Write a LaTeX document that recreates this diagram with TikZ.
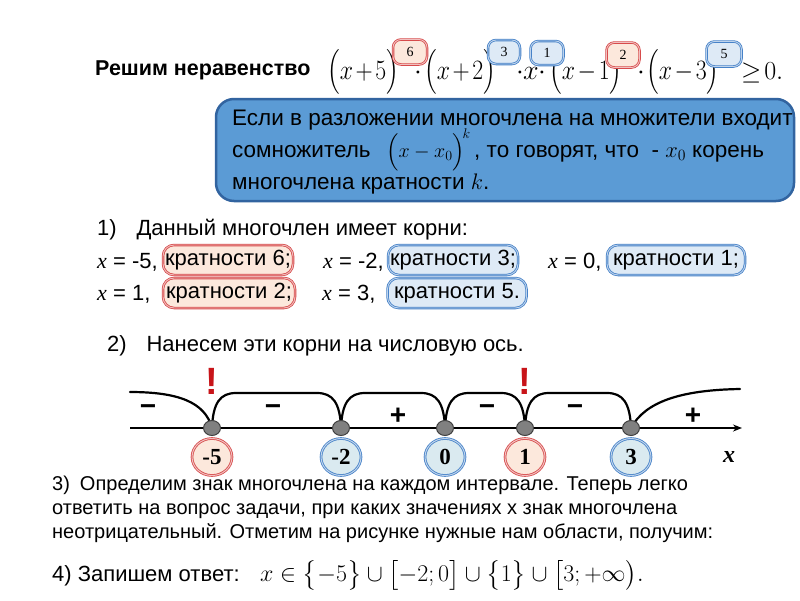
\RequirePackage{fix-cm}
\documentclass[tikz,border=0pt]{standalone}
\usepackage{amsmath}
\usepackage{fontspec}
\setmainfont{Liberation Sans}
\newfontfamily\tnr{Liberation Serif}
\usetikzlibrary{arrows.meta,shapes.geometric}
\definecolor{boxblue}{RGB}{91,155,213}
\definecolor{boxedge}{RGB}{50,100,160}
\definecolor{pillred}{RGB}{215,75,75}
\definecolor{pillredfill}{RGB}{252,232,220}
\definecolor{pillblue}{RGB}{70,130,200}
\definecolor{pillbluefill}{RGB}{222,234,246}
\definecolor{circbluefill}{RGB}{218,234,240}
\definecolor{exclred}{RGB}{200,20,25}
\definecolor{ptgray}{RGB}{128,128,128}
\newcommand\xv{{\tnr\itshape x}}
\newcommand\pf[1]{\scalebox{0.85}[1]{$\medmuskip=2mu\bigl(#1\bigr)$}}
\tikzset{
  txt/.style={anchor=base west,inner sep=0,font=\fontsize{22}{26}\selectfont},
  boxtxt/.style={anchor=base west,inner sep=0,font=\fontsize{22.5}{26}\selectfont},
  smalltxt/.style={anchor=base west,inner sep=0,font=\fontsize{20}{23}\selectfont},
  fml/.style={anchor=base west,inner sep=0,font=\fontsize{28}{28}\selectfont},
  pillbase/.style={rounded corners=11pt,line width=0.8pt,double distance=0.9pt,
    minimum height=30,inner sep=0,font=\fontsize{22}{26}\selectfont},
  redpill/.style={pillbase,draw=pillred,double=pillred!35!white,fill=pillredfill},
  bluepill/.style={pillbase,draw=pillblue,double=pillblue!35!white,fill=pillbluefill},
  expbase/.style={rounded corners=8pt,line width=0.8pt,double distance=0.9pt,
    inner sep=0,font=\tnr\fontsize{14}{14}\selectfont},
  expred/.style={expbase,draw=pillred,double=pillred!35!white,fill=pillredfill},
  expblue/.style={expbase,draw=pillblue,double=pillblue!35!white,fill=pillbluefill},
  ptdot/.style={ellipse,draw=black!75,line width=1pt,fill=ptgray,minimum width=17,minimum height=15,inner sep=0},
  circbase/.style={ellipse,line width=0.8pt,double distance=1pt,minimum width=40,minimum height=37,inner sep=0,
    font=\tnr\fontsize{23}{23}\selectfont\bfseries},
  redcirc/.style={circbase,draw=pillred,double=pillred!35!white,fill=pillredfill},
  bluecirc/.style={circbase,draw=pillblue,double=pillblue!35!white,fill=circbluefill},
  sign/.style={inner sep=0,font=\fontsize{28}{28}\selectfont\bfseries},
  excl/.style={anchor=base,inner sep=0,text=exclred,font=\fontsize{38}{38}\selectfont\bfseries},
  curve/.style={line width=2.2pt,line cap=round}
}
\begin{document}
\begin{tikzpicture}[x=1pt,y=-1pt]
\useasboundingbox (0,0) rectangle (800,600);
\fill[white] (0,0) rectangle (800,600);
% heading
\node[anchor=base west,inner sep=0,font=\fontsize{21.5}{24}\selectfont\bfseries] (head) at (95,75) {Решим неравенство};
\node[fml] (f1) at (327,79) {\pf{x+5}};
\node[fml,anchor=base] (d1) at (418,79) {$\cdot$};
\node[fml] (f2) at (424,79) {\pf{x+2}};
\node[fml,anchor=base] (d2) at (520,79) {$\cdot$};
\node[fml] (f3) at (523,79) {$x$};
\node[fml,anchor=base] (d3) at (542,79) {$\cdot$};
\node[fml] (f4) at (549,79) {\pf{x-1}};
\node[fml,anchor=base] (d4) at (641,79) {$\cdot$};
\node[fml] (f5) at (646,79) {\pf{x-3}};
\node[anchor=base west,inner sep=0,font=\fontsize{26}{26}\selectfont] (f6) at (741,79) {$\geq\!0.$};
\node[expred,minimum width=34,minimum height=25] (e1) at (410,52) {6};
\node[expblue,minimum width=32,minimum height=24] (e2) at (504,52) {3};
\node[expblue,minimum width=33,minimum height=24] (e3) at (547,53) {1};
\node[expred,minimum width=33,minimum height=25] (e4) at (623,55) {2};
\node[expblue,minimum width=35,minimum height=25] (e5) at (724,54) {5};
% blue box
\node[draw=boxedge,line width=2.5pt,fill=boxblue,rounded corners=18pt,minimum width=578,minimum height=102,inner sep=0] (bb) at (505,150) {};
\node[boxtxt] (b1) at (232,125) {Если в разложении многочлена на множители входит};
\node[boxtxt] (b2) at (232,157) {сомножитель};
\node[anchor=base west,inner sep=0,font=\fontsize{20}{20}\selectfont] (b2f) at (386,157) {$\Bigl(x-x_0\Bigr)^{\!k}$};
\node[boxtxt] (b2b) at (474,157) {, то говорят, что \ - $x_0$ корень};
\node[boxtxt] (b3) at (232,189) {многочлена кратности $k$.};
% roots
\node[txt] (s1) at (97,235) {1)\hspace{0.9em}Данный многочлен имеет корни:};
\node[txt] (r1a) at (97,268) {\xv{} = -5,};
\node[redpill,minimum width=130] (p1) at (228,260) {кратности 6;};
\node[txt] (r1b) at (323,268) {\xv{} = -2,};
\node[bluepill,minimum width=130] (p2) at (453,260) {кратности 3;};
\node[txt] (r1c) at (548,268) {\xv{} = 0,};
\node[bluepill,minimum width=138] (p3) at (676,260) {кратности 1;};
\node[txt] (r2a) at (97,300) {\xv{} = 1,};
\node[redpill,minimum width=132] (p4) at (229,293) {кратности 2;};
\node[txt] (r2b) at (322,300) {\xv{} = 3,};
\node[bluepill,minimum width=139] (p5) at (457,293) {кратности 5.};
\node[txt] (s2) at (107,351) {2)\hspace{0.9em}Нанесем эти корни на числовую ось.};
% number line
\coordinate (axL) at (130,428);
\coordinate (axR) at (742,428);
\draw[line width=2pt,-{Stealth[length=9pt,width=7pt]}] (axL) -- (axR);
\coordinate (pa) at (212,428);
\coordinate (pb) at (341,428);
\coordinate (pc) at (445,428);
\coordinate (pd) at (525,428);
\coordinate (pe) at (631,428);
\coordinate (cL) at (130,392);
\coordinate (cR) at (740,389);
\draw[curve] (cL) .. controls (178,392) and (205,402) .. (pa);
\draw[curve] (pa) .. controls (213,403) and (220,393) .. (236,393) -- (317,393) .. controls (333,393) and (340,403) .. (pb);
\draw[curve] (pb) .. controls (342,403) and (349,393) .. (365,393) -- (421,393) .. controls (437,393) and (444,403) .. (pc);
\draw[curve] (pc) .. controls (446,403) and (453,393) .. (469,393) -- (501,393) .. controls (517,393) and (524,403) .. (pd);
\draw[curve] (pd) .. controls (526,403) and (533,393) .. (549,393) -- (607,393) .. controls (623,393) and (630,403) .. (pe);
\draw[curve] (pe) .. controls (645,402) and (680,390) .. (cR);
\node[ptdot] (na) at (pa) {};
\node[ptdot] (nb) at (pb) {};
\node[ptdot] (nc) at (pc) {};
\node[ptdot] (nd) at (pd) {};
\node[ptdot] (ne) at (pe) {};
\node[redcirc] (la) at (212,457) {-5};
\node[bluecirc] (lb) at (341,457) {-2};
\node[bluecirc] (lc) at (445,457) {0};
\node[redcirc] (ld) at (525,457) {1};
\node[bluecirc] (le) at (631,457) {3};
\node[inner sep=0,font=\tnr\fontsize{24}{24}\selectfont\bfseries\itshape] (xl) at (729,457) {x};
\node[sign] (m1) at (148,410) {−};
\node[sign] (m2) at (273,410) {−};
\node[sign] (pl1) at (398,416) {+};
\node[sign] (m3) at (487,410) {−};
\node[sign] (m4) at (575,410) {−};
\node[sign] (pl2) at (693,416) {+};
\node[excl] (x1) at (212,394) {!};
\node[excl] (x2) at (525,394) {!};
% paragraph 3
\node[smalltxt] (t1) at (52,490) {3)\hspace{0.5em}Определим знак многочлена на каждом интервале. Теперь легко};
\node[smalltxt] (t2) at (52,514) {ответить на вопрос задачи, при каких значениях x знак многочлена};
\node[smalltxt] (t3) at (52,538) {неотрицательный. Отметим на рисунке нужные нам области, получим:};
\node[txt] (t4) at (52,581) {4) Запишем ответ:};
\node[anchor=base west,inner sep=0,font=\fontsize{24}{24}\selectfont] (ans) at (260,581)
  {$x\in\bigl\{-5\bigr\}\cup\bigl[-2;0\bigr]\cup\bigl\{1\bigr\}\cup\bigl[3;+\infty\bigr).$};
\end{tikzpicture}
\end{document}
